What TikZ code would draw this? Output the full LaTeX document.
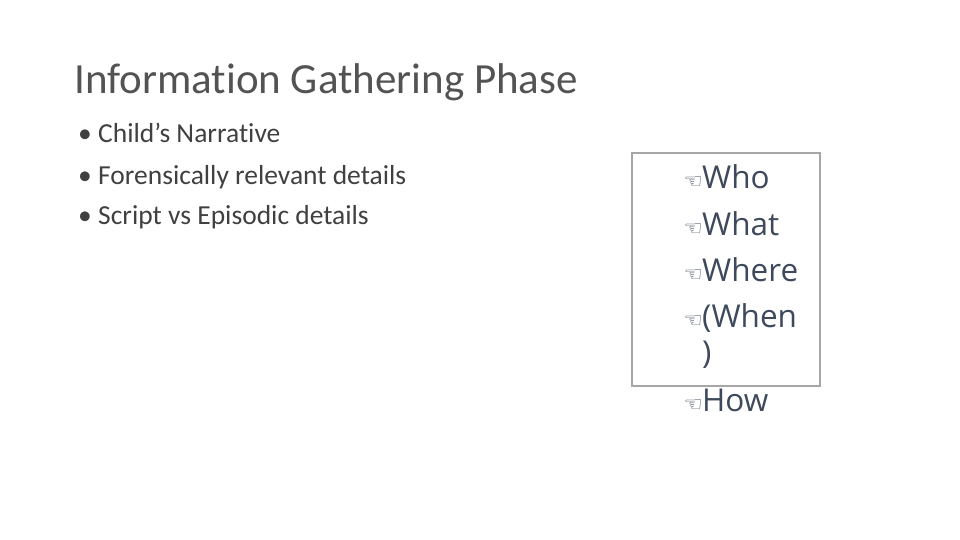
\documentclass[tikz,border=0pt]{standalone}
\usepackage{fontspec}
\setmainfont[Ligatures=NoCommon]{Carlito}
\newfontfamily\listfont{Open Sans}
\newfontfamily\symfont{DejaVu Sans}
\definecolor{txt}{HTML}{404040}
\definecolor{lst}{HTML}{3E4A5C}
\definecolor{boxc}{HTML}{A6A6A6}
\begin{document}
\begin{tikzpicture}[x=1pt,y=-1pt,
  bul/.style={anchor=base west,inner sep=0pt,font=\fontsize{27.5}{32}\selectfont,text=txt},
  itm/.style={anchor=base west,inner sep=0pt,font=\listfont\fontsize{31.5}{36}\selectfont,text=lst},
  hand/.style={anchor=base east,inner sep=0pt,font=\symfont\fontsize{21}{24}\selectfont,text=lst}]
\useasboundingbox (0,0) rectangle (960,540);
\node[anchor=base west,inner sep=0pt,font=\fontsize{43}{50}\selectfont,text=txt!90] (title) at (74,94) {Information Gathering Phase};
\foreach \y/\t/\n in {143/Child’s Narrative/b1,184/Forensically relevant details/b2,224/Script vs Episodic details/b3}{
  \node[bul] (\n) at (98,\y) {\t};
  \node[bul,anchor=base east] at ([xshift=-6]\n.base west) {•};}
\draw[boxc,line width=2] (632,153) rectangle (820,386);
\node[itm] (w1) at (702,189) {Who};
\node[itm] (w2) at (702,235) {What};
\node[itm] (w3) at (702,281) {Where};
\node[itm] (w4) at (702,327) {(When};
\node[itm] (w5) at (702,363) {)};
\node[itm] (w6) at (702,411) {How};
\foreach \n in {w1,w2,w3,w4,w6}{\node[hand] at ([xshift=1]\n.base west) {☜};}
\end{tikzpicture}
\end{document}
